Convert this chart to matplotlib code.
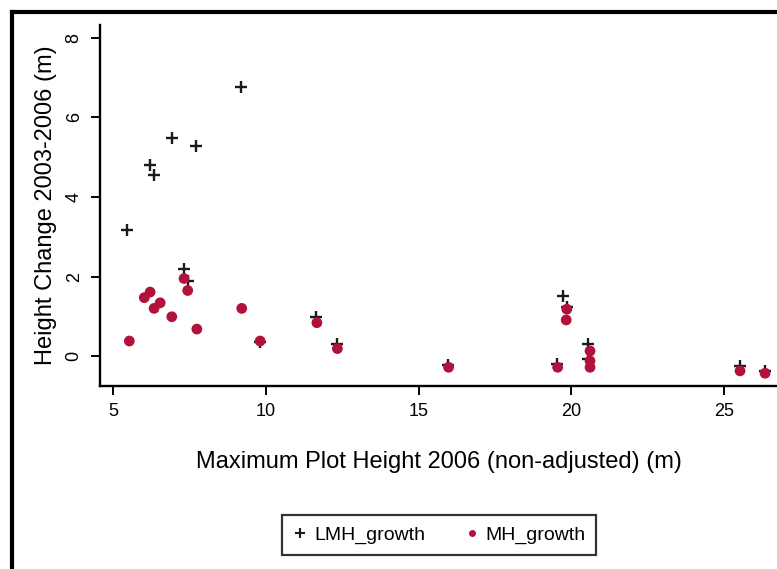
import matplotlib
matplotlib.use("Agg")
import matplotlib.pyplot as plt
from matplotlib.lines import Line2D

plt.rcParams['font.family'] = ['Liberation Sans', 'DejaVu Sans']

# Data
lmh_x = [5.46, 6.21, 6.34, 6.93, 7.72, 9.19, 7.32, 7.45, 9.81, 11.63, 12.32, 15.97,
         19.52, 19.74, 19.85, 20.55, 20.55, 25.52, 26.34]
lmh_y = [3.18, 4.81, 4.56, 5.49, 5.29, 6.77, 2.18, 1.88, 0.35, 0.98, 0.30, -0.22,
         -0.20, 1.51, 1.23, 0.30, -0.08, -0.24, -0.37]
mh_x = [5.53, 6.02, 6.21, 6.34, 6.54, 6.92, 7.32, 7.44, 7.74, 9.21, 9.81, 11.67, 12.34,
        15.98, 19.55, 19.85, 19.83, 20.61, 20.61, 20.61, 25.52, 26.34]
mh_y = [0.38, 1.47, 1.61, 1.20, 1.34, 0.99, 1.95, 1.65, 0.68, 1.20, 0.38, 0.84, 0.19,
        -0.28, -0.28, 1.18, 0.91, 0.13, -0.12, -0.28, -0.37, -0.43]
xticks = [5, 10, 15, 20, 25]
yticks = [0, 2, 4, 6, 8]

W, H = 777, 569
fig = plt.figure(figsize=(W/100, H/100), dpi=100)
ax = fig.add_axes([100/W, 1-386/H, 1-100/W, (386-25)/H])

ax.scatter(lmh_x, lmh_y, marker='+', s=70, c='#1a1a1a', linewidths=1.7, zorder=2,
           label='LMH_growth')
ax.scatter(mh_x, mh_y, marker='o', s=60, c='#b0123c', edgecolors='none', zorder=3,
           label='MH_growth')

ax.set_xlim(4.57, 26.73)
ax.set_ylim(-0.75, 8.32)
ax.set_xticks(xticks)
ax.set_yticks(yticks)
ax.set_xticklabels([str(v) for v in xticks], fontsize=13)
ax.set_yticklabels([str(v) for v in yticks], fontsize=13, rotation=90, va='center')
ax.tick_params(direction='out', length=6.5, width=1.4, color='black', pad=6)
for s in ['top', 'right']:
    ax.spines[s].set_visible(False)
for s in ['left', 'bottom']:
    ax.spines[s].set_linewidth(1.7)

ax.set_xlabel('Maximum Plot Height 2006 (non-adjusted) (m)', fontsize=17, labelpad=22)
ax.set_ylabel('Height Change 2003-2006 (m)', fontsize=17, labelpad=6)

# Figure border (top and left)
fig.add_artist(Line2D([12/W, 12/W], [0, 1-12/H], color='black', lw=3,
                      transform=fig.transFigure))
fig.add_artist(Line2D([12/W, 1], [1-12/H, 1-12/H], color='black', lw=3,
                      transform=fig.transFigure))

handles = [Line2D([], [], marker='+', ls='none', color='#1a1a1a', markersize=7, mew=1.5),
           Line2D([], [], marker='o', ls='none', color='#b0123c', markersize=5, mec='none')]
leg = fig.legend(handles, ['LMH_growth', 'MH_growth'], loc='center',
                 bbox_to_anchor=(439/W, 1-535/H), ncol=2, fontsize=14,
                 frameon=True, fancybox=False, edgecolor='black',
                 handletextpad=0.3, columnspacing=2.0, handlelength=0.8,
                 borderpad=0.55, borderaxespad=0)
leg.get_frame().set_linewidth(1.6)

fig.savefig('out.png', dpi=100)
